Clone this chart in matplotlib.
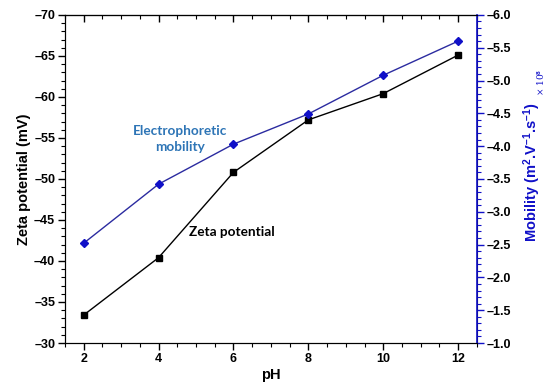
import matplotlib
matplotlib.use("Agg")
import matplotlib.pyplot as plt
from matplotlib.ticker import MultipleLocator, FuncFormatter

plt.rcParams['font.family'] = ['Liberation Sans', 'DejaVu Sans']
plt.rcParams['font.weight'] = 'bold'
plt.rcParams['mathtext.fontset'] = 'custom'
plt.rcParams['mathtext.bf'] = 'Liberation Sans:bold'
plt.rcParams['mathtext.rm'] = 'Liberation Sans:bold'
plt.rcParams['mathtext.default'] = 'bf'

# data
ph = [2, 4, 6, 8, 10, 12]
zeta = [-33.4, -40.4, -50.8, -57.2, -60.4, -65.1]
mobility = [-2.52, -3.42, -4.03, -4.49, -5.08, -5.60]

blue = '#1010c8'
line_blue = '#2b2ba0'


def dash_fmt(fmt):
    # long dash for the minus sign, like the original
    return FuncFormatter(lambda v, p: (fmt % v).replace('-', '\u2013'))


fig = plt.figure(figsize=(5.5, 3.92), dpi=100)
ax = fig.add_axes([0.118, 0.125, 0.749, 0.837])
ax2 = ax.twinx()

ax.plot(ph, zeta, color='black', lw=1.0, marker='s', ms=4.5, zorder=3)
ax2.plot(ph, mobility, color=line_blue, lw=1.0, marker='D', ms=4.5,
         mfc=blue, mec=blue, zorder=3)

ax.set_xlim(1.5, 12.5)
ax.set_ylim(-30, -70)
ax2.set_ylim(-1.0, -6.0)

ax.xaxis.set_major_locator(MultipleLocator(2))
ax.xaxis.set_minor_locator(MultipleLocator(0.5))
ax.yaxis.set_major_locator(MultipleLocator(5))
ax.yaxis.set_minor_locator(MultipleLocator(1))
ax.yaxis.set_major_formatter(dash_fmt('%d'))
ax2.yaxis.set_major_locator(MultipleLocator(0.5))
ax2.yaxis.set_minor_locator(MultipleLocator(0.1))
ax2.yaxis.set_major_formatter(dash_fmt('%.1f'))

ax.tick_params(axis='both', which='major', direction='out', length=5, width=1,
               labelsize=9, pad=2)
ax.tick_params(axis='both', which='minor', direction='out', length=3, width=0.8)
ax2.tick_params(axis='y', which='major', direction='out', length=5, width=1,
                colors=blue, labelcolor='black', labelsize=9, pad=2)
ax2.tick_params(axis='y', which='minor', direction='out', length=3, width=0.8,
                colors=blue)
for lab in ax.get_xticklabels() + ax.get_yticklabels() + ax2.get_yticklabels():
    lab.set_fontweight('bold')

# top ticks point inward
top = ax.secondary_xaxis('top')
top.xaxis.set_major_locator(MultipleLocator(2))
top.xaxis.set_minor_locator(MultipleLocator(0.5))
top.tick_params(which='major', direction='in', length=5, width=1, labeltop=False)
top.tick_params(which='minor', direction='in', length=3, width=0.8)

ax2.spines['right'].set_color(blue)
ax2.spines['right'].set_linewidth(1.2)

ax.set_xlabel('pH', fontsize=10.5, fontweight='bold', labelpad=2)
ax.set_ylabel('Zeta potential (mV)', fontsize=10.5, fontweight='bold', labelpad=2)

fig.text(0.968, 0.56, 'Mobility (m$^2$.V$^{\u2013 1}$.s$^{\u2013 1}$)', rotation=90,
         color=blue, fontsize=10.5, fontweight='bold', ha='center', va='center')
fig.text(0.984, 0.79, '× 10$^8$', rotation=90, color=blue, fontsize=6.5,
         fontweight='normal', family='DejaVu Serif', ha='center', va='center')

ax.text(4.57, -54.9, 'Electrophoretic\nmobility', color='#2e75b6', fontsize=9.8,
        fontweight='bold', family=['Lato', 'DejaVu Sans'], ha='center',
        va='center', linespacing=1.45)
ax.text(5.96, -43.5, 'Zeta potential', color='black', fontsize=9.8,
        fontweight='bold', family=['Lato', 'DejaVu Sans'], ha='center',
        va='center')

fig.savefig('out.png', dpi=100)
